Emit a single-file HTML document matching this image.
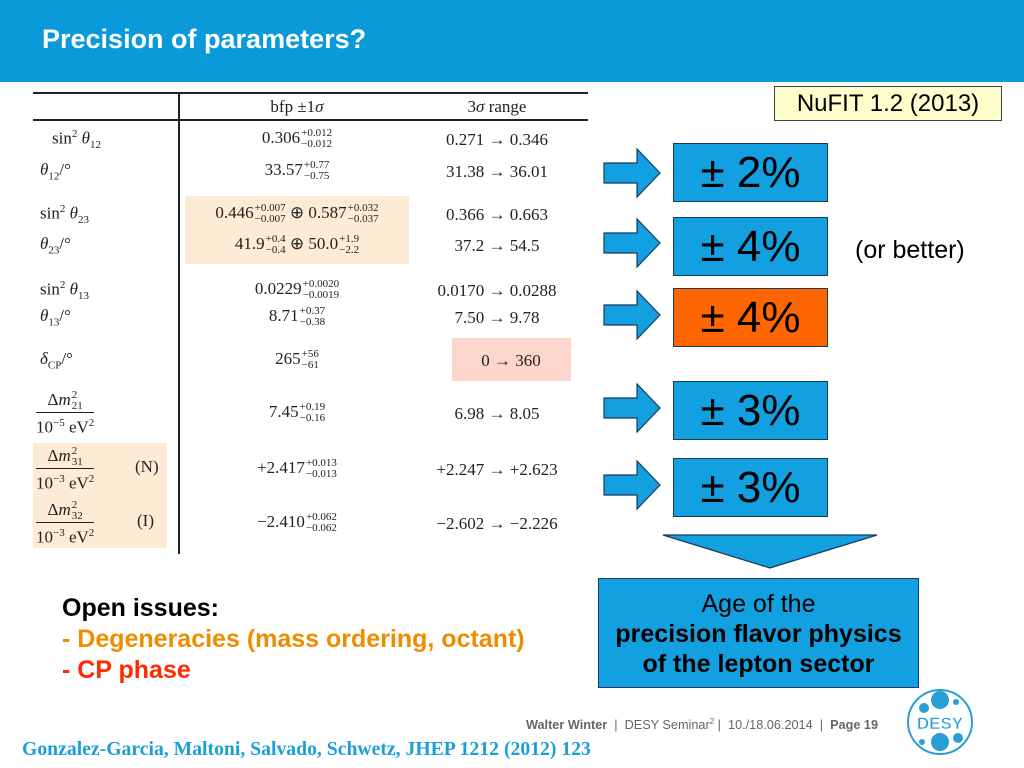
<!DOCTYPE html>
<html><head><meta charset="utf-8"><style>
body{margin:0;width:1024px;height:768px;position:relative;background:#fff;overflow:hidden;font-family:"Liberation Sans",sans-serif}
.a{position:absolute}
.s{font-family:"Liberation Serif",serif;font-size:17px;color:#222;white-space:nowrap}
.c{transform:translateX(-50%)}
sub,sup{font-size:11px}
.e{display:inline-block;vertical-align:middle;font-size:11px;line-height:11px;text-align:left;margin-left:1px}
.box{position:absolute;left:673px;width:153px;height:57px;background:#12a0e0;border:1px solid #1a3a5a;color:#000;font-size:44px;text-align:center;line-height:57px}
.fr{position:absolute;font-family:"Liberation Serif",serif;font-size:17px;color:#222;text-align:center;line-height:20px;white-space:nowrap}
</style></head><body>
<div class="a" style="left:0;top:0;width:1024px;height:82px;background:#0a9ad9"></div>
<div class="a" style="left:42px;top:24px;color:#fff;font-weight:bold;font-size:27px">Precision of parameters?</div>

<div class="a" style="left:774px;top:86px;width:226px;height:33px;background:#ffffcc;border:1px solid #444;font-size:24px;line-height:33px;text-align:center">NuFIT 1.2 (2013)</div>

<div>
<div class="a" style="left:185px;top:196px;width:224px;height:68px;background:#fdebd5"></div>
<div class="a" style="left:452px;top:338px;width:119px;height:43px;background:#fcd5cc"></div>
<div class="a" style="left:33px;top:443px;width:134px;height:105px;background:#fdebd5"></div>
<div class="a" style="left:33px;top:92px;width:555px;height:2px;background:#222"></div>
<div class="a" style="left:33px;top:119px;width:555px;height:2px;background:#222"></div>
<div class="a" style="left:178px;top:92px;width:2px;height:462px;background:#222"></div>
<div class="a s c" style="left:297px;top:97px">bfp ±1<i>σ</i></div>
<div class="a s c" style="left:497px;top:97px">3<i>σ</i> range</div>

<div class="a s" style="left:52px;top:128px">sin<sup>2</sup> <i>θ</i><sub>12</sub></div>
<div class="a s c" style="left:297px;top:128px">0.306<span class="e">+0.012<br>−0.012</span></div>
<div class="a s c" style="left:497px;top:130px">0.271 → 0.346</div>
<div class="a s" style="left:40px;top:160px"><i>θ</i><sub>12</sub>/°</div>
<div class="a s c" style="left:297px;top:160px">33.57<span class="e">+0.77<br>−0.75</span></div>
<div class="a s c" style="left:497px;top:162px">31.38 → 36.01</div>

<div class="a s" style="left:40px;top:203px">sin<sup>2</sup> <i>θ</i><sub>23</sub></div>
<div class="a s c" style="left:297px;top:203px">0.446<span class="e">+0.007<br>−0.007</span> ⊕ 0.587<span class="e">+0.032<br>−0.037</span></div>
<div class="a s c" style="left:497px;top:205px">0.366 → 0.663</div>
<div class="a s" style="left:40px;top:234px"><i>θ</i><sub>23</sub>/°</div>
<div class="a s c" style="left:297px;top:234px">41.9<span class="e">+0.4<br>−0.4</span> ⊕ 50.0<span class="e">+1.9<br>−2.2</span></div>
<div class="a s c" style="left:497px;top:236px">37.2 → 54.5</div>

<div class="a s" style="left:40px;top:279px">sin<sup>2</sup> <i>θ</i><sub>13</sub></div>
<div class="a s c" style="left:297px;top:279px">0.0229<span class="e">+0.0020<br>−0.0019</span></div>
<div class="a s c" style="left:497px;top:281px">0.0170 → 0.0288</div>
<div class="a s" style="left:40px;top:306px"><i>θ</i><sub>13</sub>/°</div>
<div class="a s c" style="left:297px;top:306px">8.71<span class="e">+0.37<br>−0.38</span></div>
<div class="a s c" style="left:497px;top:308px">7.50 → 9.78</div>

<div class="a s" style="left:40px;top:349px"><i>δ</i><sub>CP</sub>/°</div>
<div class="a s c" style="left:297px;top:349px">265<span class="e">+56<br>−61</span></div>
<div class="a s c" style="left:511px;top:351px">0 → 360</div>

<div class="fr" style="left:36px;top:390px"><div style="border-bottom:1px solid #222;padding:0 3px">Δ<i>m</i><span class="e">2<br>21</span></div><div>10<sup>−5</sup> eV<sup>2</sup></div></div>
<div class="a s c" style="left:297px;top:402px">7.45<span class="e">+0.19<br>−0.16</span></div>
<div class="a s c" style="left:497px;top:404px">6.98 → 8.05</div>

<div class="fr" style="left:36px;top:446px"><div style="border-bottom:1px solid #222;padding:0 3px">Δ<i>m</i><span class="e">2<br>31</span></div><div>10<sup>−3</sup> eV<sup>2</sup></div></div>
<div class="a s" style="left:135px;top:457px">(N)</div>
<div class="a s c" style="left:297px;top:458px">+2.417<span class="e">+0.013<br>−0.013</span></div>
<div class="a s c" style="left:497px;top:460px">+2.247 → +2.623</div>

<div class="fr" style="left:36px;top:500px"><div style="border-bottom:1px solid #222;padding:0 3px">Δ<i>m</i><span class="e">2<br>32</span></div><div>10<sup>−3</sup> eV<sup>2</sup></div></div>
<div class="a s" style="left:137px;top:511px">(I)</div>
<div class="a s c" style="left:297px;top:512px">−2.410<span class="e">+0.062<br>−0.062</span></div>
<div class="a s c" style="left:497px;top:514px">−2.602 → −2.226</div>
</div>

<svg class="a" style="left:0;top:0" width="1024" height="768">
<g fill="#12a0e0" stroke="#1a3a5a" stroke-width="1.2">
<polygon points="604,163 637,163 637,149 660,173 637,197 637,183 604,183"/>
<polygon points="604,233 637,233 637,219 660,243 637,267 637,253 604,253"/>
<polygon points="604,305 637,305 637,291 660,315 637,339 637,325 604,325"/>
<polygon points="604,398 637,398 637,384 660,408 637,432 637,418 604,418"/>
<polygon points="604,475 637,475 637,461 660,485 637,509 637,495 604,495"/>
<polygon points="663,535 877,535 770,568"/>
</g>
<g>
<circle cx="940" cy="722" r="32" fill="none" stroke="#2a9fd6" stroke-width="2"/>
<g fill="#2a9fd6"><circle cx="940" cy="700" r="9"/><circle cx="940" cy="742" r="9"/><circle cx="924" cy="708" r="5"/><circle cx="958" cy="738" r="5"/><circle cx="956" cy="702" r="3"/><circle cx="922" cy="742" r="3"/></g>
<text x="940" y="729" text-anchor="middle" font-family="Liberation Sans" font-weight="bold" font-size="17" fill="#2a9fd6" stroke="#fff" stroke-width="0.6">DESY</text>
</g>
</svg>

<div class="box" style="top:143px">± 2%</div>
<div class="box" style="top:217px">± 4%</div>
<div class="box" style="top:288px;background:#ff6600">± 4%</div>
<div class="box" style="top:381px">± 3%</div>
<div class="box" style="top:458px">± 3%</div>
<div class="a" style="left:855px;top:236px;font-size:25px">(or better)</div>

<div class="a" style="left:598px;top:578px;width:321px;height:110px;background:#12a0e0;border:1px solid #1a3a5a;text-align:center;font-size:25px;line-height:30px;padding-top:10px;box-sizing:border-box;white-space:nowrap">Age of the<br><b>precision flavor physics<br>of the lepton sector</b></div>

<div class="a" style="left:62px;top:593px;font-size:25px;font-weight:bold;line-height:31px;white-space:nowrap">
<div>Open issues:</div>
<div style="color:#f08c00">- Degeneracies (mass ordering, octant)</div>
<div style="color:#ff2a00">- CP phase</div></div>

<div class="a" style="left:526px;top:717px;font-size:12.7px;color:#666;white-space:nowrap">
<b>Walter Winter</b> &nbsp;| &nbsp;DESY Seminar<sup style="font-size:8px">2</sup> | &nbsp;10./18.06.2014 &nbsp;| &nbsp;<b>Page 19</b></div>
<div class="a" style="left:22px;top:738px;font-family:'Liberation Serif',serif;font-weight:bold;font-size:19.7px;color:#1a9fd9;white-space:nowrap">Gonzalez-Garcia, Maltoni, Salvado, Schwetz, JHEP 1212 (2012) 123</div>
</body></html>
